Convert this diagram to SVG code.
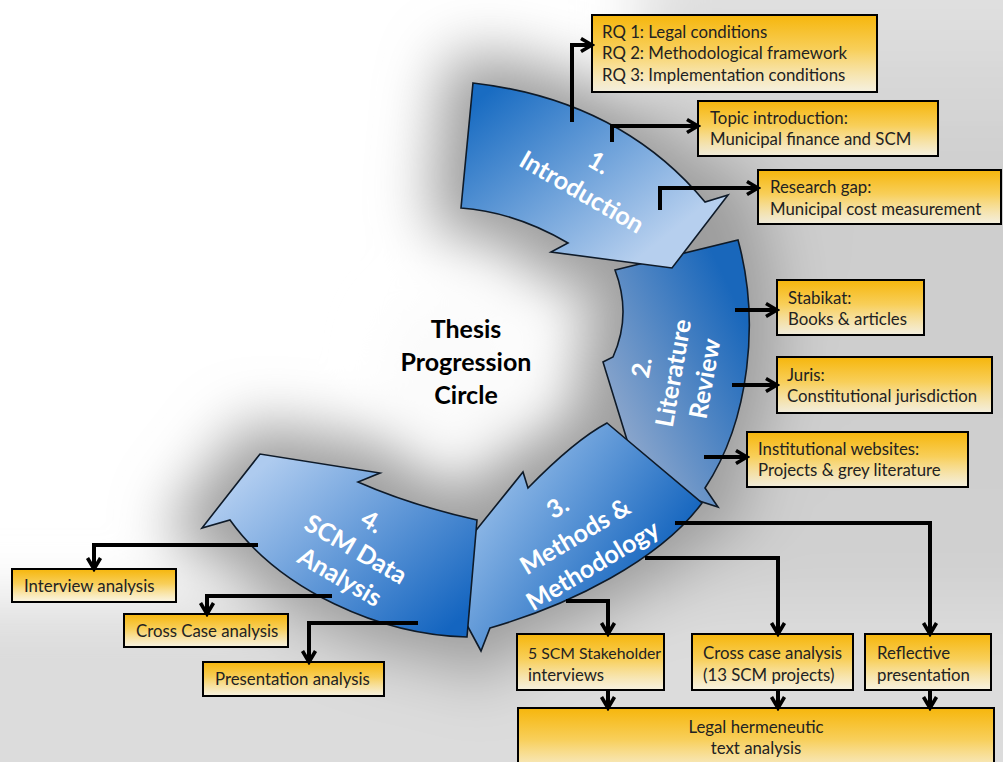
<svg xmlns="http://www.w3.org/2000/svg" xmlns:xlink="http://www.w3.org/1999/xlink" width="1003" height="762" viewBox="0 0 1003 762">
  <style>
    .box { stroke: #000; stroke-width: 2; fill: url(#boxFill); }
    .lbl { font-family: Lato, "Open Sans", sans-serif; font-size: 16.8px; fill: #222; }
    .stage { font-family: Lato, "Open Sans", sans-serif; font-size: 25px; font-weight: bold; fill: #fff; text-anchor: middle; }
    .title { font-family: Lato, "Open Sans", sans-serif; font-size: 25px; font-weight: bold; fill: #000; text-anchor: middle; }
    .edge { fill: none; stroke: #000; stroke-width: 4; stroke-linejoin: miter; }
    .arrow-shape { stroke: #0e1a28; stroke-width: 1.6; stroke-linejoin: miter; }
  </style>
  <defs>
    <linearGradient id="boxFill" x1="0" y1="0" x2="0" y2="1">
      <stop offset="0" stop-color="#f6b60c"/>
      <stop offset="0.45" stop-color="#f8cf5a"/>
      <stop offset="1" stop-color="#fdf7e2" stop-opacity="0.8"/>
    </linearGradient>
    <linearGradient id="g1" gradientUnits="userSpaceOnUse" x1="490" y1="90" x2="630" y2="265">
      <stop offset="0" stop-color="#196cc2"/>
      <stop offset="1" stop-color="#b6cfee"/>
    </linearGradient>
    <linearGradient id="g2" gradientUnits="userSpaceOnUse" x1="605" y1="400" x2="750" y2="330">
      <stop offset="0" stop-color="#8ba6cc"/>
      <stop offset="1" stop-color="#1967bb"/>
    </linearGradient>
    <linearGradient id="g3" gradientUnits="userSpaceOnUse" x1="510" y1="470" x2="660" y2="575">
      <stop offset="0" stop-color="#8db7e6"/>
      <stop offset="1" stop-color="#1364be"/>
    </linearGradient>
    <linearGradient id="g4" gradientUnits="userSpaceOnUse" x1="270" y1="460" x2="430" y2="645">
      <stop offset="0" stop-color="#aecbef"/>
      <stop offset="1" stop-color="#1465c0"/>
    </linearGradient>
    <linearGradient id="rightShade" x1="0" y1="0" x2="0" y2="1">
      <stop offset="0" stop-color="#ececec"/>
      <stop offset="0.3" stop-color="#cdcdcd"/>
      <stop offset="1" stop-color="#d2d2d2"/>
    </linearGradient>
    <filter id="haze" x="-30%" y="-30%" width="160%" height="160%">
      <feGaussianBlur stdDeviation="30"/>
    </filter>
    <marker id="head" markerUnits="userSpaceOnUse" markerWidth="18" markerHeight="18" viewBox="0 0 18 18" refX="15" refY="9" orient="auto">
      <path d="M4,2.5 L15,9 L4,15.5" fill="none" stroke="#000" stroke-width="3.6"/>
    </marker>
    <!-- ring segments -->
    <path id="shape1" d="M473,83 Q620,100 705,202 L728,195 L672,268 L551,252 L568,243 Q515,212 461,208 Z"/>
    <path id="shape2" d="M615,270 L738,240 C760,320 750,420 705,488 L718,507 L640,482 L603,362 L613,357 Q632,315 615,270 Z"/>
    <path id="shape3" d="M607,423 L702,503 C660,560 570,605 490,628 L481,651 L440,575 L523,472 L528,488 Q575,440 607,423 Z"/>
    <path id="shape4" d="M477,520 L467,637 C380,635 280,590 230,520 L202,528 L260,454 L380,473 L358,482 Q410,505 477,520 Z"/>
  </defs>

  <!-- backdrop with soft shading around the ring -->
  <rect width="1003" height="762" fill="#fff"/>
  <g filter="url(#haze)">
    <rect x="640" y="-120" width="520" height="1000" fill="url(#rightShade)"/>
    <rect x="-120" y="600" width="1300" height="270" fill="#dcdcdc"/>
    <g fill="#9d9d9d" stroke="#9d9d9d" stroke-width="60" stroke-linejoin="round">
      <use xlink:href="#shape1"/>
      <use xlink:href="#shape2"/>
      <use xlink:href="#shape3"/>
      <use xlink:href="#shape4"/>
    </g>
    <circle cx="455" cy="365" r="65" fill="#fafafa"/>
  </g>

  <!-- process stages -->
  <g id="stage-literature">
    <use xlink:href="#shape2" class="arrow-shape" fill="url(#g2)"/>
    <g transform="translate(673,373) rotate(-80)">
      <text class="stage" x="0" y="-23">2.</text>
      <text class="stage" x="0" y="9">Literature</text>
      <text class="stage" x="0" y="41">Review</text>
    </g>
  </g>
  <g id="stage-methods">
    <use xlink:href="#shape3" class="arrow-shape" fill="url(#g3)"/>
    <g transform="translate(575,536) rotate(-31)">
      <text class="stage" x="0" y="-25">3.</text>
      <text class="stage" x="0" y="9">Methods &amp;</text>
      <text class="stage" x="0" y="43">Methodology</text>
    </g>
  </g>
  <g id="stage-analysis">
    <use xlink:href="#shape4" class="arrow-shape" fill="url(#g4)"/>
    <g transform="translate(356,549) rotate(30)">
      <text class="stage" x="0" y="-23">4.</text>
      <text class="stage" x="0" y="9">SCM Data</text>
      <text class="stage" x="0" y="41">Analysis</text>
    </g>
  </g>
  <g id="stage-introduction">
    <use xlink:href="#shape1" class="arrow-shape" fill="url(#g1)"/>
    <g transform="translate(590,178) rotate(30)">
      <text class="stage" x="0" y="-9">1.</text>
      <text class="stage" x="0" y="25">Introduction</text>
    </g>
  </g>

  <g id="title">
    <text class="title" x="466" y="338">Thesis</text>
    <text class="title" x="466" y="371">Progression</text>
    <text class="title" x="466" y="404">Circle</text>
  </g>

  <!-- output boxes -->
  <g id="box-rq">
    <rect class="box" x="592" y="15" width="285" height="77"/>
    <text class="lbl" x="602" y="38">RQ 1: Legal conditions</text>
    <text class="lbl" x="602" y="59">RQ 2: Methodological framework</text>
    <text class="lbl" x="602" y="81">RQ 3: Implementation conditions</text>
  </g>
  <g id="box-topic">
    <rect class="box" x="698" y="101" width="240" height="55"/>
    <text class="lbl" x="710" y="124">Topic introduction:</text>
    <text class="lbl" x="710" y="145">Municipal finance and SCM</text>
  </g>
  <g id="box-gap">
    <rect class="box" x="758" y="170" width="243" height="54"/>
    <text class="lbl" x="770" y="193">Research gap:</text>
    <text class="lbl" x="770" y="215">Municipal cost measurement</text>
  </g>
  <g id="box-stabikat">
    <rect class="box" x="777" y="280" width="147" height="55"/>
    <text class="lbl" x="788" y="304">Stabikat:</text>
    <text class="lbl" x="788" y="325">Books &amp; articles</text>
  </g>
  <g id="box-juris">
    <rect class="box" x="777" y="357" width="215" height="56"/>
    <text class="lbl" x="787" y="381">Juris:</text>
    <text class="lbl" x="787" y="402">Constitutional jurisdiction</text>
  </g>
  <g id="box-websites">
    <rect class="box" x="747" y="432" width="221" height="55"/>
    <text class="lbl" x="758" y="455">Institutional websites:</text>
    <text class="lbl" x="758" y="476">Projects &amp; grey literature</text>
  </g>
  <g id="box-interviews">
    <rect class="box" x="517" y="634" width="147" height="56"/>
    <text class="lbl" x="528" y="659" style="font-size:15.8px">5 SCM Stakeholder</text>
    <text class="lbl" x="528" y="681">interviews</text>
  </g>
  <g id="box-crosscase">
    <rect class="box" x="692" y="634" width="161" height="56"/>
    <text class="lbl" x="703" y="659">Cross case analysis</text>
    <text class="lbl" x="703" y="681">(13 SCM projects)</text>
  </g>
  <g id="box-reflective">
    <rect class="box" x="865" y="634" width="126" height="56"/>
    <text class="lbl" x="877" y="659">Reflective</text>
    <text class="lbl" x="877" y="681">presentation</text>
  </g>
  <g id="box-legal">
    <rect class="box" x="518" y="708" width="476" height="70"/>
    <text class="lbl" x="756" y="733" text-anchor="middle">Legal hermeneutic</text>
    <text class="lbl" x="756" y="754" text-anchor="middle">text analysis</text>
  </g>
  <g id="box-interview-analysis">
    <rect class="box" x="12" y="569" width="164" height="33"/>
    <text class="lbl" x="24" y="592">Interview analysis</text>
  </g>
  <g id="box-crosscase-analysis">
    <rect class="box" x="124" y="614" width="164" height="33"/>
    <text class="lbl" x="136" y="637">Cross Case analysis</text>
  </g>
  <g id="box-presentation-analysis">
    <rect class="box" x="203" y="662" width="181" height="34"/>
    <text class="lbl" x="215" y="685">Presentation analysis</text>
  </g>

  <!-- connectors -->
  <g id="connectors" class="edges">
    <path class="edge" marker-end="url(#head)" d="M572,122 V45 H592"/>
    <path class="edge" marker-end="url(#head)" d="M612,142 V126 H698"/>
    <path class="edge" marker-end="url(#head)" d="M660,210 V188 H758"/>
    <path class="edge" marker-end="url(#head)" d="M735,310 H777"/>
    <path class="edge" marker-end="url(#head)" d="M732,385 H777"/>
    <path class="edge" marker-end="url(#head)" d="M704,457 H747"/>
    <path class="edge" marker-end="url(#head)" d="M675,523 H930 V634"/>
    <path class="edge" marker-end="url(#head)" d="M645,558 H778 V634"/>
    <path class="edge" marker-end="url(#head)" d="M566,601 H608 V634"/>
    <path class="edge" marker-end="url(#head)" d="M608,690 V708"/>
    <path class="edge" marker-end="url(#head)" d="M778,690 V708"/>
    <path class="edge" marker-end="url(#head)" d="M930,690 V708"/>
    <path class="edge" marker-end="url(#head)" d="M258,545 H94 V569"/>
    <path class="edge" marker-end="url(#head)" d="M332,596 H207 V614"/>
    <path class="edge" marker-end="url(#head)" d="M418,623 H309 V662"/>
  </g>
</svg>
